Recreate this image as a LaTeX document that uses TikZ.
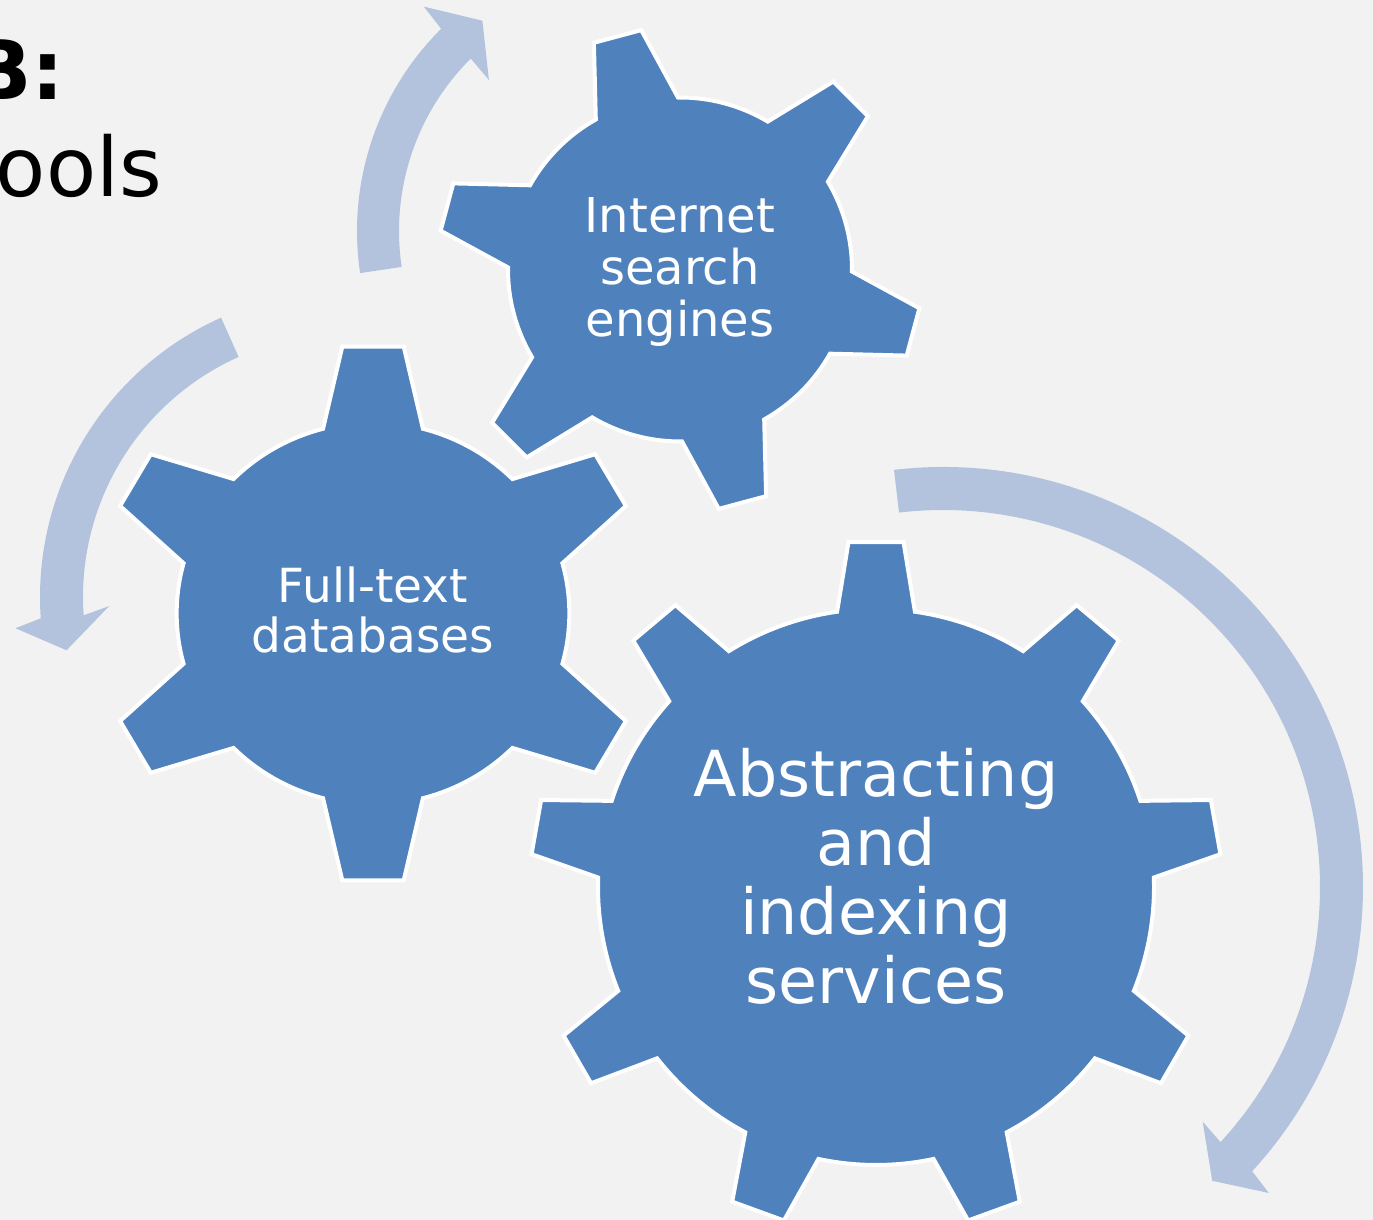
\documentclass[tikz,border=0pt]{standalone}
\usepackage{fontspec}
\setmainfont{DejaVu Sans}

\definecolor{gearblue}{RGB}{79,129,189}
\definecolor{arrowblue}{RGB}{179,195,222}
\definecolor{slidegray}{RGB}{242,242,242}

\begin{document}
\begin{tikzpicture}[x=1pt, y=1pt
        , gear/.style={ fill=gearblue, draw=white, line width=4pt }
        , cycarrow/.style={ fill=arrowblue, draw=none }
        , gearlabel/.style={ text=white, align=center, inner sep=0pt }
        , titletext/.style={ text=black, inner sep=0pt, anchor=base east }
        ]

        \useasboundingbox (0,0) rectangle (1373,1220);
        \fill[slidegray] (0,0) rectangle (1373,1220);
        \clip (0,0) rectangle (1373,1220);

        % slide title, cut by the left edge
        \node[titletext, font=\fontsize{82}{98}\selectfont\bfseries] (titleA) at (65,1120) {B:};
        \node[titletext, font=\fontsize{82}{98}\selectfont] (titleB) at (162,1023) {ools};

        % circular arrows round the gears
        \fill[cycarrow, shift={(642,989)}] (188.5:285)
            arc[start angle=188.5, end angle=134.8, radius=285]
            -- (134.2:313) -- (127.2:264) -- (135.4:215) -- (134.8:243)
            arc[start angle=134.8, end angle=188.5, radius=243] -- cycle;

        \fill[cycarrow, shift={(346,623)}] (114.1:306)
            arc[start angle=114.1, end angle=184, radius=306]
            -- (185.4:332) -- (190.8:284.5) -- (182.2:237) -- (184:263)
            arc[start angle=184, end angle=114.1, radius=263] -- cycle;

        \fill[cycarrow, shift={(943,333)}] (96.7:420)
            arc[start angle=96.7, end angle=-42.6, radius=420]
            -- (-43.2:447) -- (-47.5:398.5) -- (-42.1:350) -- (-42.6:377)
            arc[start angle=-42.6, end angle=96.7, radius=377] -- cycle;

        % big gear, nine teeth
        \filldraw[gear, shift={(876,333)}] (81.95:278)
            \foreach \a in {90,130,...,410} {
                -- (\a-8.05:278) -- (\a-4.56:346) -- (\a+4.56:346) -- (\a+8.05:278)
                arc[start angle=\a+8.05, end angle=\a+31.95, radius=278]
            } -- cycle;

        % middle gear, six teeth, a little wider than high
        \filldraw[gear, shift={(373,606.5)}, xscale=1.028] (75.26:191)
            \foreach \a in {90,150,...,390} {
                -- (\a-14.74:191) -- (\a-6.39:268.5) -- (\a+6.39:268.5) -- (\a+14.74:191)
                arc[start angle=\a+14.74, end angle=\a+45.26, radius=191]
            } -- cycle;

        % small gear, six teeth
        \filldraw[gear, shift={(680,950.5)}] (90.69:172)
            \foreach \a in {105,165,...,405} {
                -- (\a-14.31:172) -- (\a-5.8:242.5) -- (\a+5.8:242.5) -- (\a+14.31:172)
                arc[start angle=\a+14.31, end angle=\a+45.69, radius=172]
            } -- cycle;

        \node[gearlabel, font=\fontsize{48}{52}\selectfont] (search) at (680,947.5)
            {Internet\\search\\engines};
        \node[gearlabel, font=\fontsize{47}{50}\selectfont] (fulltext) at (373,610.5)
            {Full-text\\databases};
        \node[gearlabel, font=\fontsize{63.5}{69}\selectfont] (abstract) at (876,343.5)
            {Abstracting\\and\\indexing\\services};

    \end{tikzpicture}
\end{document}
